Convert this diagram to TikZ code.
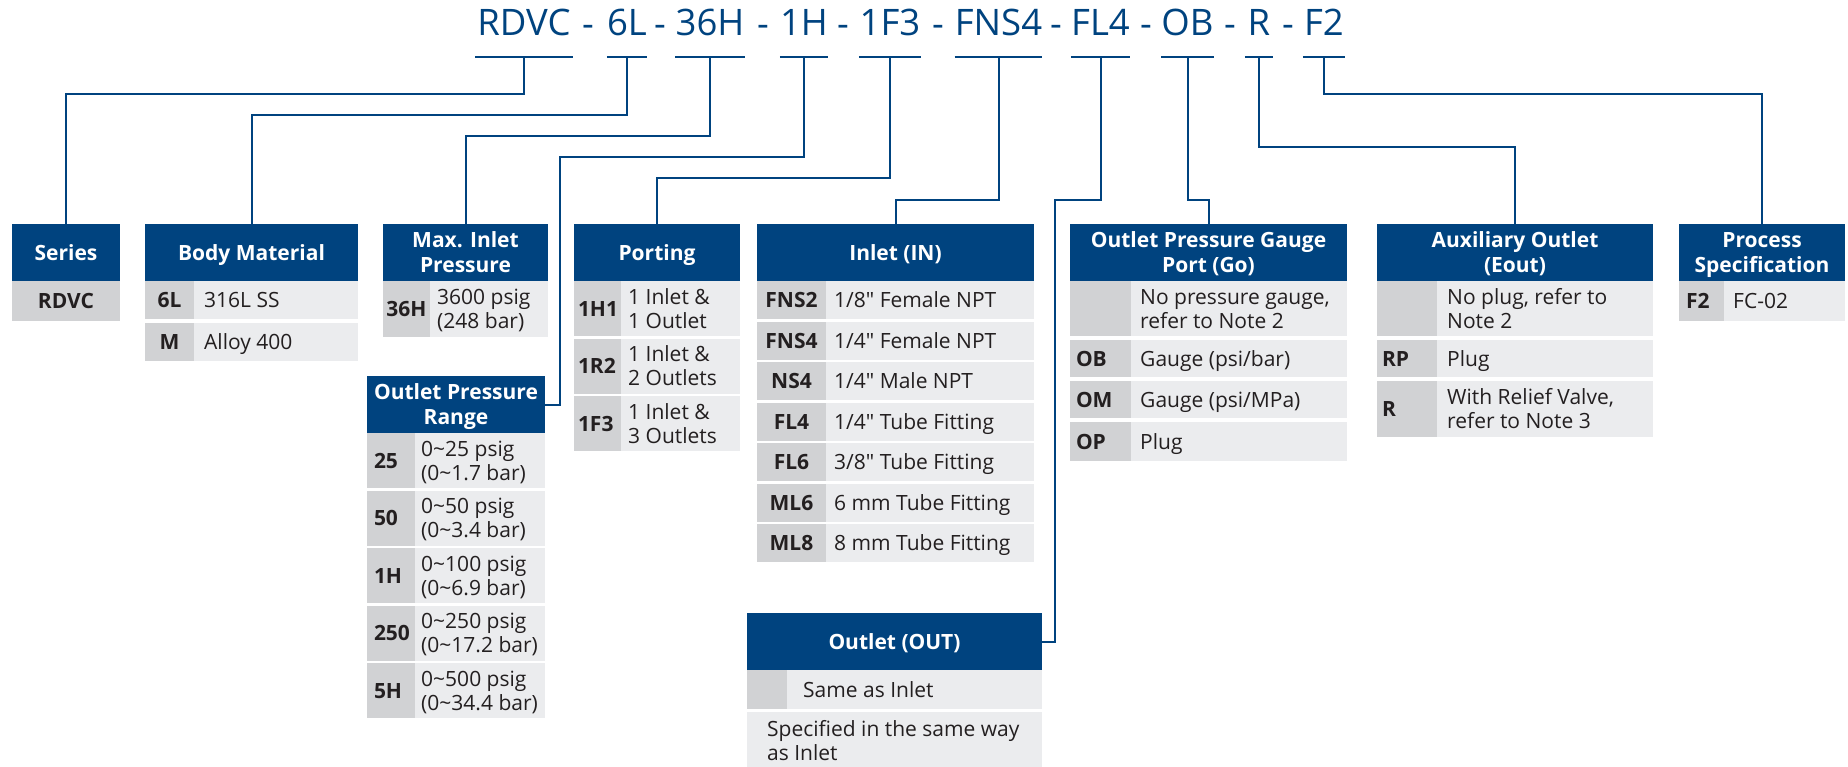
\documentclass[tikz,border=0pt]{standalone}
\usepackage{fontspec}
\setmainfont{Open Sans}
% same family without the TeX quote mapping, so " stays a straight inch mark
\newfontfamily\rawfont{Open Sans}
\definecolor{brand}{HTML}{00437F}
\definecolor{keygray}{HTML}{D1D2D4}
\definecolor{valgray}{HTML}{EBECEE}
\definecolor{ink}{HTML}{231F20}

\newcommand\bodysize{\fontsize{21}{24}\selectfont}
\newcommand\hdrsize{\fontsize{21}{25}\selectfont}
\newcommand\titlesize{\fontsize{36.5}{40}\selectfont}
% invisible struts: fixed top of the first line and bottom of the last line
\newcommand\topst{\rule{0pt}{21pt}}
\newcommand\botst{\rule[-6pt]{0pt}{6pt}}

\tikzset{
  cell/.style={anchor=north west, inner sep=0pt, outer sep=0pt},
  hdr/.style={cell, fill=brand, text=white, font=\hdrsize\bfseries, align=center, minimum height=57pt},
  keycell/.style={cell, fill=keygray, text=ink, font=\bodysize\bfseries},
  valcell/.style={cell, fill=valgray},
  valtext/.style={anchor=west, inner sep=0pt, text=ink, font=\rawfont\bodysize, align=left},
  code/.style={anchor=south, inner sep=0pt, text=brand, font=\titlesize, text depth=21pt},
  sep/.style={anchor=base, inner sep=0pt, text=brand, font=\titlesize},
  uline/.style={draw=brand, line width=2pt},
  conn/.style={draw=brand, line width=2pt},
}

% header bar: name, x, y, width, text
\newcommand\header[5]{%
  \node[hdr, minimum width=#4pt] (#1) at (#2,#3) {\topst#5\botst};
}
% table row: name, x, y, full width, key width, height, key options, key, value
\newcommand\trow[9]{%
  \node[keycell, minimum width=#5pt, minimum height=#6pt, #7] (#1k) at (#2,#3) {\topst#8\botst};
  \pgfmathsetmacro\valw{#4-#5}%
  \node[valcell, minimum width=\valw pt, minimum height=#6pt] (#1v) at (#1k.north east) {};
  \node[valtext] (#1t) at ([xshift=\vpad pt]#1v.west) {\topst#9\botst};
}

\begin{document}
\begin{tikzpicture}[x=1pt, y=-1pt]
\useasboundingbox (0,0) rectangle (1848,766);

% ---- order code ----
\node[code, minimum width=97pt] (cRDVC) at (524,57) {RDVC};
\node[sep] (s1) at (588,36) {-};
\node[code, minimum width=38pt] (c6L) at (627,57) {6L};
\node[sep] (s2) at (660,36) {-};
\node[code, minimum width=66pt] (c36H) at (710,57) {36H};
\node[sep] (s3) at (763,36) {-};
\node[code, minimum width=40pt] (c1H) at (804,57) {1H};
\node[sep] (s4) at (843,36) {-};
\node[code, minimum width=62pt] (c1F3) at (890,57) {1F3};
\node[sep] (s5) at (938,36) {-};
\node[code, minimum width=86pt] (cFNS4) at (998.5,57) {FNS4};
\node[sep] (s6) at (1056,36) {-};
\node[code, minimum width=52pt] (cFL4) at (1100.5,57) {FL4};
\node[sep] (s7) at (1146,36) {-};
\node[code, minimum width=50pt] (cOB) at (1187.5,57) {OB};
\node[sep] (s8) at (1230,36) {-};
\node[code, minimum width=28pt] (cR) at (1259,57) {R};
\node[sep] (s9) at (1288,36) {-};
\node[code, minimum width=42pt] (cF2) at (1324,57) {F2};

\foreach \c in {cRDVC,c6L,c36H,c1H,c1F3,cFNS4,cFL4,cOB,cR,cF2}
  \draw[uline] (\c.south west) -- (\c.south east);

% ---- Series ----
\header{hSeries}{12}{224}{108}{Series}
\node[keycell, minimum width=108pt, minimum height=40pt] (srk) at (12,281) {\topst RDVC\botst};

% ---- Body Material ----
\header{hBody}{145}{224}{213}{Body Material}
\def\vpad{10}
\trow{bm1}{145}{281}{213}{49}{38}{}{6L}{316L SS}
\trow{bm2}{145}{323}{213}{49}{38}{}{M}{Alloy 400}

% ---- Max. Inlet Pressure ----
\header{hMax}{383}{224}{165}{Max. Inlet\\Pressure}
\def\vpad{7}
\trow{mx1}{383}{281}{165}{47}{56}{}{36H}{3600 psig\\(248 bar)}

% ---- Outlet Pressure Range ----
\header{hOPR}{367}{376}{178}{Outlet Pressure\\Range}
\def\vpad{6}
\tikzset{kopr/.style={align=left, text width=34pt, inner xsep=7pt}}
\trow{or1}{367}{433}{178}{48}{55}{kopr}{25}{0\textasciitilde25 psig\\(0\textasciitilde1.7 bar)}
\trow{or2}{367}{490.5}{178}{48}{55}{kopr}{50}{0\textasciitilde50 psig\\(0\textasciitilde3.4 bar)}
\trow{or3}{367}{548}{178}{48}{55}{kopr}{1H}{0\textasciitilde100 psig\\(0\textasciitilde6.9 bar)}
\trow{or4}{367}{605.5}{178}{48}{55}{kopr}{250}{0\textasciitilde250 psig\\(0\textasciitilde17.2 bar)}
\trow{or5}{367}{663}{178}{48}{55}{kopr}{5H}{0\textasciitilde500 psig\\(0\textasciitilde34.4 bar)}

% ---- Porting ----
\header{hPort}{574}{224}{166}{Porting}
\def\vpad{7}
\tikzset{kport/.style={align=left, text width=39pt, inner xsep=4pt}}
\trow{pt1}{574}{281}{166}{47}{55}{kport}{1H1}{1 Inlet \&\\1 Outlet}
\trow{pt2}{574}{338.5}{166}{47}{55}{kport}{1R2}{1 Inlet \&\\2 Outlets}
\trow{pt3}{574}{396}{166}{47}{55}{kport}{1F3}{1 Inlet \&\\3 Outlets}

% ---- Inlet (IN) ----
\header{hIn}{757}{224}{277}{Inlet (IN)}
\def\vpad{8}
\trow{in1}{757}{281}{277}{69}{38}{}{FNS2}{1/8" Female NPT}
\trow{in2}{757}{321.5}{277}{69}{38}{}{FNS4}{1/4" Female NPT}
\trow{in3}{757}{362}{277}{69}{38}{}{NS4}{1/4" Male NPT}
\trow{in4}{757}{402.5}{277}{69}{38}{}{FL4}{1/4" Tube Fitting}
\trow{in5}{757}{443}{277}{69}{38}{}{FL6}{3/8" Tube Fitting}
\trow{in6}{757}{483.5}{277}{69}{38}{}{ML6}{6 mm Tube Fitting}
\trow{in7}{757}{524}{277}{69}{38}{}{ML8}{8 mm Tube Fitting}

% ---- Outlet (OUT) ----
\header{hOut}{747}{613}{295}{Outlet (OUT)}
\def\vpad{16}
\trow{ou1}{747}{670}{295}{40}{39}{}{}{Same as Inlet}
\node[valcell, minimum width=295pt, minimum height=60pt] (ou2v) at (747,712) {};
\node[valtext, anchor=north west] (ou2t) at ([xshift=20pt,yshift=-3pt]ou2v.north west) {\topst Specified in the same way\\as Inlet\botst};

% ---- Outlet Pressure Gauge Port ----
\header{hOPG}{1070}{224}{277}{Outlet Pressure Gauge\\Port (Go)}
\def\vpad{9}
\tikzset{kopg/.style={align=left, text width=49pt, inner xsep=6pt}}
\trow{og0}{1070}{281}{277}{61}{55}{kopg}{}{No pressure gauge,\\refer to Note 2}
\trow{og1}{1070}{340}{277}{61}{37}{kopg}{OB}{Gauge (psi/bar)}
\trow{og2}{1070}{381}{277}{61}{37}{kopg}{OM}{Gauge (psi/MPa)}
\trow{og3}{1070}{422}{277}{61}{39}{kopg}{OP}{Plug}

% ---- Auxiliary Outlet ----
\header{hAux}{1377}{224}{276}{Auxiliary Outlet\\(Eout)}
\def\vpad{10}
\tikzset{kaux/.style={align=left, text width=50pt, inner xsep=5pt}}
\trow{ax0}{1377}{281}{276}{60}{55}{kaux}{}{No plug, refer to\\Note 2}
\trow{ax1}{1377}{340}{276}{60}{37}{kaux}{RP}{Plug}
\trow{ax2}{1377}{381}{276}{60}{56}{kaux}{R}{With Relief Valve,\\refer to Note 3}

% ---- Process Specification ----
\header{hProc}{1679}{224}{166}{Process\\Specification}
\def\vpad{9}
\tikzset{kproc/.style={align=left, text width=31pt, inner xsep=7pt}}
\trow{pr1}{1679}{281}{166}{45}{40}{kproc}{F2}{FC-02}

% ---- leader lines ----
\coordinate (lvA) at (0,94);
\coordinate (lvB) at (0,115);
\coordinate (lvC) at (0,136);
\coordinate (lvE) at (0,178);
\coordinate (lvF) at (0,200);
\coordinate (lvR) at (0,147);
\coordinate (bOPR) at (560,157);
\coordinate (bOut) at (1055,200);

\draw[conn] (cRDVC.south) |- (hSeries.north |- lvA) -- (hSeries.north);
\draw[conn] (c6L.south) |- (hBody.north |- lvB) -- (hBody.north);
\draw[conn] (c36H.south) |- (hMax.north |- lvC) -- (hMax.north);
\draw[conn] (c1H.south) |- (bOPR) |- (hOPR.east);
\draw[conn] (c1F3.south) |- (hPort.north |- lvE) -- (hPort.north);
\draw[conn] (cFNS4.south) |- (hIn.north |- lvF) -- (hIn.north);
\draw[conn] (cFL4.south) |- (bOut) |- (hOut.east);
\draw[conn] (cOB.south) |- (hOPG.north |- lvF) -- (hOPG.north);
\draw[conn] (cR.south) |- (hAux.north |- lvR) -- (hAux.north);
\draw[conn] (cF2.south) |- (hProc.north |- lvA) -- (hProc.north);
\end{tikzpicture}
\end{document}
